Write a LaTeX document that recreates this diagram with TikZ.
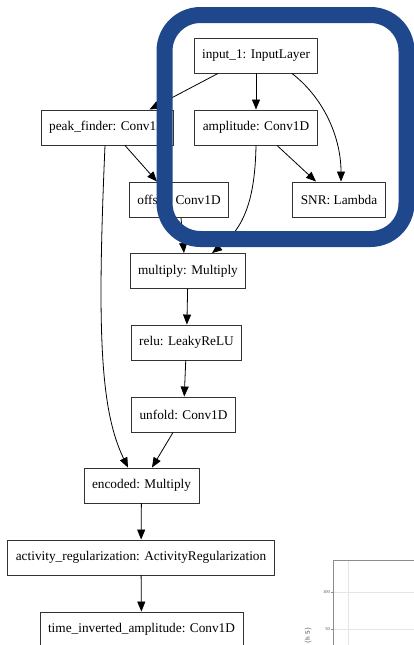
\documentclass[tikz,border=0pt]{standalone}
\usepackage{fontspec}
\setmainfont{Liberation Serif}
\usetikzlibrary{arrows.meta}
\definecolor{framecol}{RGB}{30,71,140}
\tikzset{
  layer/.style={draw=black!80,line width=0.9pt,fill=white,inner xsep=8pt,
    minimum height=35pt,font=\fontsize{13.3}{15}\selectfont},
  edge/.style={->,line width=0.8pt},
  frame/.style={draw=framecol,line width=16pt,rounded corners=36pt},
  axisline/.style={draw=black!45,line width=0.8pt},
  gridline/.style={draw=black!10,line width=0.6pt},
  ticklab/.style={font=\fontsize{4.5}{5}\selectfont,text=black!70,anchor=east,inner sep=1pt}
}
\begin{document}
\begin{tikzpicture}[x=1pt,y=-1pt,>={Triangle[length=10pt,width=8pt]}]
\useasboundingbox (0,0) rectangle (414,645);
\clip (0,0) rectangle (414,645);

% layers of the network
\node[layer] (input) at (256,55.5) {input\_1: InputLayer};
\node[layer] (peak) at (107.5,127.5) {peak\_finder: Conv1D};
\node[layer] (ampl) at (256,127.5) {amplitude: Conv1D};
\node[layer] (offset) at (179,199.5) {offset: Conv1D};
\node[layer] (snr) at (339,199.5) {SNR: Lambda};
\node[layer] (mult) at (188,271) {multiply: Multiply};
\node[layer] (relu) at (186.5,342.5) {relu: LeakyReLU};
\node[layer] (unfold) at (183.5,414.5) {unfold: Conv1D};
\node[layer] (enc) at (141.5,485.5) {encoded: Multiply};
\node[layer] (actreg) at (141,557.5) {activity\_regularization: ActivityRegularization};
\node[layer] (tinv) at (141.5,629.5) {time\_inverted\_amplitude: Conv1D};

% connections
\draw[edge] ([xshift=-38pt]input.south) -- ([xshift=42pt]peak.north);
\draw[edge] (input.south) -- (ampl.north);
\draw[edge] ([xshift=36pt]input.south) .. controls (326,100) and (341,140) .. ([xshift=2pt]snr.north);
\draw[edge] ([xshift=17.5pt]peak.south) -- ([xshift=-22pt]offset.north);
\draw[edge] ([xshift=-2.5pt]peak.south) .. controls (97,330) and (100,410) .. ([xshift=-13.5pt]enc.north);
\draw[edge] ([xshift=21pt]ampl.south) -- ([xshift=-23pt]snr.north);
\draw[edge] (ampl.south) .. controls (255,200) and (244,228) .. ([xshift=24pt]mult.north);
\draw[edge] ([xshift=2pt]offset.south) -- ([xshift=-4pt]mult.north);
\draw[edge] (mult) -- (relu);
\draw[edge] (relu) -- (unfold);
\draw[edge] ([xshift=-10.5pt]unfold.south) -- ([xshift=10.5pt]enc.north);
\draw[edge] (enc) -- (actreg);
\draw[edge] (actreg) -- (tinv);

% highlight frame
\draw[frame] (164.5,15) rectangle (406.5,239);

% corner of a plot
\draw[gridline] (348,560) -- (348,645);
\draw[gridline] (333,592) -- (414,592);
\draw[gridline] (333,629) -- (414,629);
\draw[axisline] (333,645) -- (333,560) -- (414,560);
\draw[axisline] (331,592) -- (333,592);
\draw[axisline] (331,629) -- (333,629);
\node[ticklab] (t100) at (331,592) {100};
\node[ticklab] (t50) at (331,629) {50};
\node[rotate=90,anchor=east,font=\fontsize{7}{8}\selectfont\sffamily,text=black!70] (ylab) at (308,624) {(h 5)};
\end{tikzpicture}
\end{document}
